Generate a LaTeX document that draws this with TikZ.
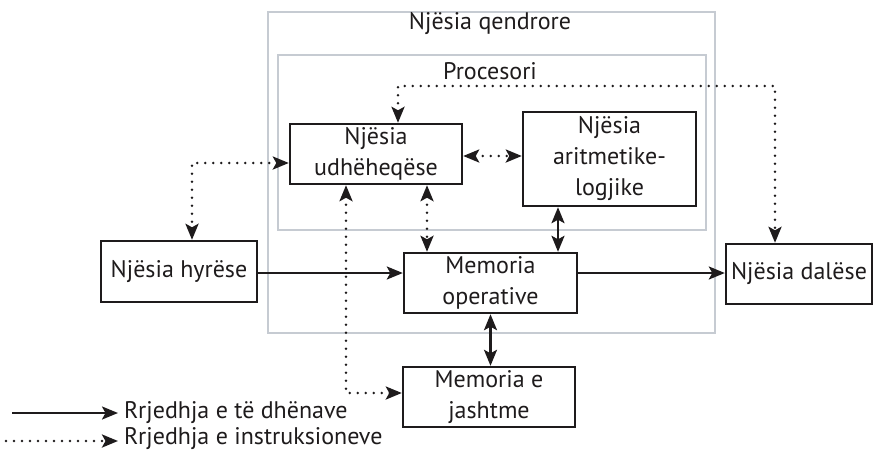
\documentclass[tikz,border=0pt]{standalone}
\usepackage{fontspec}
\setmainfont{PT Sans}
\usetikzlibrary{arrows.meta}
\definecolor{frame}{RGB}{198,203,210}
\definecolor{ink}{RGB}{30,27,28}
\tikzset{
  box/.style={draw=ink, line width=2.4pt, rectangle, align=center, inner sep=0pt,
    font=\fontsize{24}{31}\selectfont, text=ink},
  lbl/.style={font=\fontsize{24}{31}\selectfont, text=ink, inner sep=0pt},
  grayframe/.style={draw=frame, line width=2.4pt},
  data/.style={draw=ink, line width=2.4pt, -{Stealth[length=16pt, width=13pt, inset=3.5pt]}},
  datab/.style={draw=ink, line width=2.4pt, {Stealth[length=16pt, width=13pt, inset=3.5pt]}-{Stealth[length=16pt, width=13pt, inset=3.5pt]}},
  instr/.style={draw=ink, line width=2.8pt, line cap=round, dash pattern=on 0pt off 8pt,
    {Stealth[length=16pt, width=13pt, inset=3.5pt, line cap=butt]}-{Stealth[length=16pt, width=13pt, inset=3.5pt, line cap=butt]}},
  instrone/.style={draw=ink, line width=2.8pt, line cap=round, dash pattern=on 0pt off 8pt,
    -{Stealth[length=16pt, width=13pt, inset=3.5pt, line cap=butt]}},
}
\begin{document}
\begin{tikzpicture}[x=1pt, y=-1pt]
\useasboundingbox (0,0) rectangle (874,458);
% frames
\draw[grayframe] (268,12) rectangle (715,333);
\draw[grayframe] (278,55) rectangle (706,230);
\node[lbl] (qend) at (490,24) {Njësia qendrore};
\node[lbl] (proc) at (490,71) {Procesori};
% boxes
\node[box, minimum width=172pt, minimum height=60pt] (udh) at (376,154) {Njësia\\udhëheqëse};
\node[box, minimum width=173pt, minimum height=94pt] (alu) at (609.5,159) {Njësia\\aritmetike-\\logjike};
\node[box, minimum width=156pt, minimum height=61pt] (hyr) at (179,271.5) {Njësia hyrëse};
\node[box, minimum width=173pt, minimum height=60pt] (mo) at (490.5,283) {Memoria\\operative};
\node[box, minimum width=146pt, minimum height=60pt] (dal) at (799,274) {Njësia dalëse};
\node[box, minimum width=172pt, minimum height=60pt] (mj) at (489,397) {Memoria e\\jashtme};
% helper coordinates
\coordinate (xa) at (558,0);
\coordinate (xb) at (427,0);
\coordinate (xc) at (346,0);
\coordinate (xd) at (398,0);
\coordinate (xe) at (775,0);
\coordinate (xf) at (192,0);
\coordinate (ytop) at (0,86);
\coordinate (yl) at (0,163);
\coordinate (ym) at (0,393);
\coordinate (yu) at (0,156);
% data flows
\draw[data] (hyr.east |- 0,273) -- (mo.west |- 0,273);
\draw[data] (mo.east |- 0,273) -- (dal.west |- 0,273);
\draw[datab] (alu.south -| xa) -- (mo.north -| xa);
\draw[datab] (mo.south) -- (mo.south |- mj.north);
% instruction flows
\draw[instr] (udh.south -| xb) -- (mo.north -| xb);
\draw[instr] (udh.east |- yu) -- (alu.west |- yu);
\draw[instr] (udh.north -| xd) |- (xe |- ytop) -- (dal.north -| xe);
\draw[instr] (udh.west |- yl) -| (hyr.north -| xf);
\draw[instr] (udh.south -| xc) |- (mj.west |- ym);
% legend
\coordinate (l1a) at (12,413);
\coordinate (l1b) at (118,413);
\coordinate (l2a) at (6,441);
\coordinate (l2b) at (118,441);
\draw[data] (l1a) -- (l1b);
\draw[instrone] (l2a) -- (l2b);
\node[lbl, anchor=west] (leg1) at (124,413) {Rrjedhja e të dhënave};
\node[lbl, anchor=west] (leg2) at (124,439) {Rrjedhja e instruksioneve};
\end{tikzpicture}
\end{document}
